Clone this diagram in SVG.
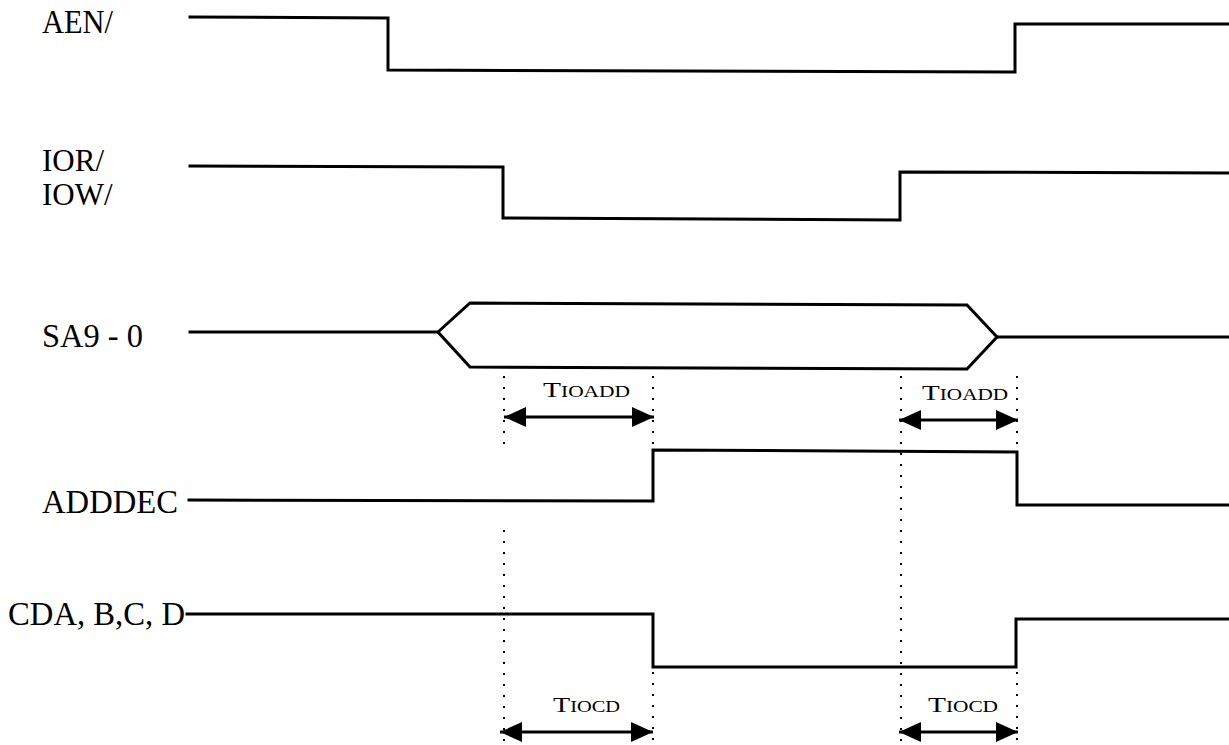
<svg xmlns="http://www.w3.org/2000/svg" width="1229" height="745" viewBox="0 0 1229 745">
<style>
.sig{fill:none;stroke:#000;stroke-width:3;stroke-linejoin:miter;stroke-linecap:square}
.lbl{font-family:"Liberation Serif","DejaVu Serif",serif;font-size:33px;fill:#000}
.lbl2{font-family:"Liberation Serif","DejaVu Serif",serif;font-size:31px;fill:#000}
.tl{font-family:"Liberation Serif","DejaVu Serif",serif;font-size:22px;fill:#000}
.sc{font-size:16px}
.dot{fill:none;stroke:#000;stroke-width:2;stroke-dasharray:2 9}
.arr{fill:none;stroke:#000;stroke-width:3}
</style>
<defs>
<marker id="ah" viewBox="0 0 22 22" refX="22" refY="11" markerWidth="22" markerHeight="22" markerUnits="userSpaceOnUse" orient="auto-start-reverse">
<path d="M0,1 L22,11 L0,21 Z" fill="#000"/>
</marker>
</defs>
<rect width="1229" height="745" fill="#fff"/>
<g id="labels">
<text class="lbl" x="42" y="33" textLength="71" lengthAdjust="spacingAndGlyphs">AEN/</text>
<text class="lbl2" x="42" y="171">IOR/</text>
<text class="lbl2" x="42" y="205">IOW/</text>
<text class="lbl" x="42" y="347" textLength="101" lengthAdjust="spacingAndGlyphs">SA9 - 0</text>
<text class="lbl" x="42" y="513" textLength="136" lengthAdjust="spacingAndGlyphs">ADDDEC</text>
<text class="lbl" x="8" y="625" textLength="177" lengthAdjust="spacingAndGlyphs">CDA, B,C, D</text>
</g>
<g id="signal-AEN">
<polyline class="sig" points="190,17 388,18 388,70 1015,72 1015,24 1229,24"/>
</g>
<g id="signal-IOR">
<polyline class="sig" points="190,166 503,167 503,218 900,220 900,172 1229,173"/>
</g>
<g id="signal-SA">
<polyline class="sig" points="190,332 438,332"/>
<polygon class="sig" points="438,332 470,303 967,305 997,337 967,369 470,367"/>
<polyline class="sig" points="997,337 1229,337"/>
</g>
<g id="signal-ADDDEC">
<polyline class="sig" points="189,500 653,501 653,450 1017,452 1017,505 1229,505"/>
</g>
<g id="signal-CDA">
<polyline class="sig" points="187,614 653,614 653,667 1016,667 1016,619 1229,619"/>
</g>
<g id="connectors">
<line class="dot" x1="504" y1="376" x2="504" y2="445"/>
<line class="dot" x1="653" y1="376" x2="653" y2="445"/>
<line class="dot" x1="901" y1="376" x2="901" y2="745"/>
<line class="dot" x1="1017" y1="376" x2="1017" y2="448"/>
<line class="dot" x1="504" y1="530" x2="504" y2="745"/>
<line class="dot" x1="653" y1="672" x2="653" y2="745"/>
<line class="dot" x1="1017" y1="672" x2="1017" y2="745"/>
<line class="arr" x1="504" y1="417" x2="654" y2="417" marker-start="url(#ah)" marker-end="url(#ah)"/>
<line class="arr" x1="899" y1="420" x2="1018" y2="420" marker-start="url(#ah)" marker-end="url(#ah)"/>
<line class="arr" x1="500" y1="732" x2="653" y2="732" marker-start="url(#ah)" marker-end="url(#ah)"/>
<line class="arr" x1="899" y1="732" x2="1018" y2="732" marker-start="url(#ah)" marker-end="url(#ah)"/>
</g>
<g id="timing-labels">
<text class="tl" x="543" y="397" textLength="87" lengthAdjust="spacingAndGlyphs">T<tspan class="sc">IOADD</tspan></text>
<text class="tl" x="922" y="400" textLength="86" lengthAdjust="spacingAndGlyphs">T<tspan class="sc">IOADD</tspan></text>
<text class="tl" x="553" y="712" textLength="67" lengthAdjust="spacingAndGlyphs">T<tspan class="sc">IOCD</tspan></text>
<text class="tl" x="928" y="712" textLength="70" lengthAdjust="spacingAndGlyphs">T<tspan class="sc">IOCD</tspan></text>
</g>
</svg>
